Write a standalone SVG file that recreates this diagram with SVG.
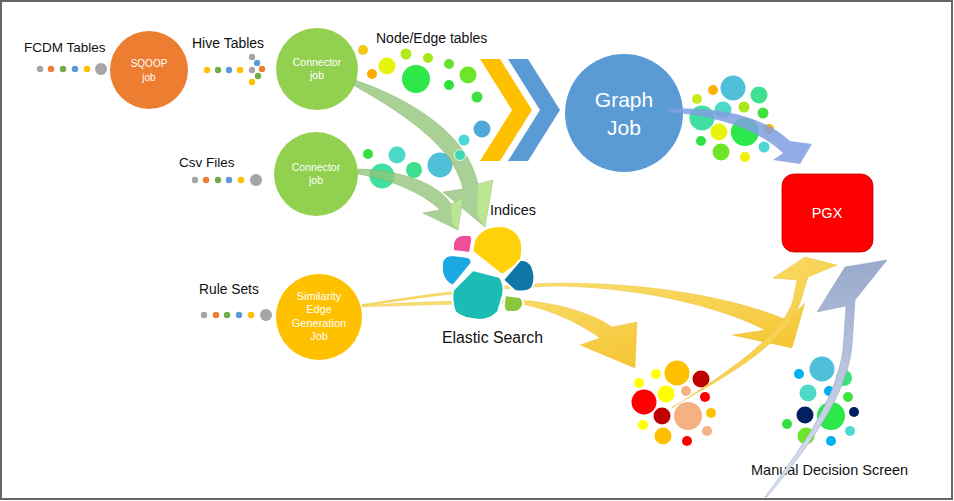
<svg xmlns="http://www.w3.org/2000/svg" width="954" height="501" viewBox="0 0 954 501">
<defs>
<style>
.lbl{font-family:"Liberation Sans",Arial,sans-serif;fill:#111}
.wt{font-family:"Liberation Sans",Arial,sans-serif;fill:#fff;text-anchor:middle}
.dg{fill:#a5a5a5}.do{fill:#ed7d31}.dgr{fill:#70ad47}.db{fill:#5b9bd5}.dy{fill:#ffc000}
.garrow{fill:#94c47a;fill-opacity:0.8;stroke:#7aad5a;stroke-opacity:0.5;stroke-width:0.8}
.ghead{fill:#bde792;fill-opacity:0.9}
.yarrow{fill:url(#yg);stroke:#e6b82a;stroke-width:0.5;stroke-opacity:0.7}
.es{stroke:#fff;stroke-width:2;stroke-linejoin:round}
</style>
<linearGradient id="yg" x1="0" y1="0" x2="1" y2="1">
<stop offset="0" stop-color="#fbe27a"/><stop offset="1" stop-color="#f4c531"/>
</linearGradient>
<linearGradient id="bgr" x1="0" y1="1" x2="0" y2="0">
<stop offset="0" stop-color="#dfe5f2"/><stop offset="1" stop-color="#98a9cc"/>
</linearGradient>
</defs>
<rect x="1" y="1" width="951" height="498" fill="#fff" stroke="#666" stroke-width="2"/>

<g id="fcdm-tables">
<text class="lbl" x="24" y="52" font-size="13.5">FCDM Tables</text>
<circle class="dg" cx="40" cy="69" r="3.2"/><circle class="do" cx="51" cy="69" r="3.2"/><circle class="dgr" cx="63" cy="69" r="3.2"/><circle class="db" cx="75" cy="69" r="3.2"/><circle class="dy" cx="87" cy="69" r="3.2"/><circle class="dg" cx="101" cy="69" r="6"/>
</g>
<g id="sqoop-job">
<circle cx="149" cy="70" r="39" fill="#ed7d31"/>
<text class="wt" x="149" y="67" font-size="10">SQOOP</text>
<text class="wt" x="149" y="81" font-size="10">job</text>
</g>
<g id="hive-tables">
<text class="lbl" x="192" y="48" font-size="14">Hive Tables</text>
<circle class="dy" cx="207" cy="70" r="3.2"/><circle class="dgr" cx="218" cy="70" r="3.2"/><circle class="db" cx="229" cy="70" r="3.2"/><circle class="dy" cx="240" cy="70" r="3.2"/><circle class="dg" cx="252" cy="70" r="3.2"/>
<circle class="dg" cx="252" cy="57" r="3.2"/><circle class="db" cx="257" cy="63" r="3.2"/><circle class="do" cx="262" cy="69" r="3.2"/><circle class="dgr" cx="258" cy="76" r="3.2"/><circle class="dy" cx="252" cy="82" r="3.2"/>
</g>
<g id="connector-job-1">
<circle cx="317" cy="69" r="41" fill="#92d050"/>
<text class="wt" x="317" y="66" font-size="10.5">Connector</text>
<text class="wt" x="317" y="79" font-size="10.5">job</text>
</g>
<g id="csv-files">
<text class="lbl" x="179" y="167" font-size="13.5">Csv Files</text>
<circle class="dg" cx="195" cy="180" r="3.2"/><circle class="do" cx="206" cy="180" r="3.2"/><circle class="dgr" cx="218" cy="180" r="3.2"/><circle class="db" cx="229" cy="180" r="3.2"/><circle class="dy" cx="241" cy="180" r="3.2"/><circle class="dg" cx="256" cy="180" r="6"/>
</g>
<g id="connector-job-2">
<circle cx="316" cy="174" r="42" fill="#92d050"/>
<text class="wt" x="316" y="171" font-size="10.5">Connector</text>
<text class="wt" x="316" y="184" font-size="10.5">job</text>
</g>
<g id="rule-sets">
<text class="lbl" x="199" y="294" font-size="13.8">Rule Sets</text>
<circle class="dg" cx="204" cy="315" r="3.2"/><circle class="do" cx="216" cy="315" r="3.2"/><circle class="dgr" cx="227" cy="315" r="3.2"/><circle class="db" cx="239" cy="315" r="3.2"/><circle class="dy" cx="251" cy="315" r="3.2"/><circle class="dg" cx="266" cy="315" r="6"/>
</g>
<g id="similarity-job">
<circle cx="319" cy="317" r="43" fill="#ffc000"/>
<text class="wt" x="319" y="300" font-size="11">Similarity</text>
<text class="wt" x="319" y="313" font-size="11">Edge</text>
<text class="wt" x="319" y="327" font-size="11">Generation</text>
<text class="wt" x="319" y="340" font-size="11">Job</text>
</g>
<g id="node-edge-tables">
<text class="lbl" x="376" y="43" font-size="14">Node/Edge tables</text>
<circle cx="363" cy="50" r="5" fill="#f5c518"/><circle cx="372" cy="74" r="5" fill="#ffa800"/><circle cx="387" cy="66" r="8.5" fill="#e6f50c"/>
<circle cx="406" cy="54" r="5.5" fill="#b4ea1c"/><circle cx="416" cy="79" r="14" fill="#2ee84a"/><circle cx="428" cy="58" r="5" fill="#a8e818"/>
<circle cx="449" cy="64" r="5" fill="#66e030"/><circle cx="449" cy="85" r="5" fill="#2ee040"/><circle cx="468" cy="75" r="8.5" fill="#6ee628"/>
<circle cx="477" cy="97" r="5.5" fill="#3ee040"/><circle cx="482" cy="129" r="8.5" fill="#4fa8d8"/><circle cx="464" cy="140" r="5.5" fill="#4dd8d8"/>
<circle cx="368" cy="154" r="5" fill="#30e040"/><circle cx="397" cy="155" r="8.5" fill="#4dd8c8"/><circle cx="382" cy="176" r="12.5" fill="#3fe0a0"/>
<circle cx="414" cy="170" r="8" fill="#3ee090"/><circle cx="440" cy="165" r="12.5" fill="#50c0d8"/>
</g>
<g id="chevrons">
<polygon points="480,59 500,59 532,110 500,161 480,161 512,110" fill="#ffc000"/>
<polygon points="508,59 528,59 560,110 528,161 508,161 540,110" fill="#5b9bd5"/>
</g>
<g id="graph-job">
<circle cx="624" cy="113" r="59" fill="#5b9bd5"/>
<text class="wt" x="624" y="107" font-size="21">Graph</text>
<text class="wt" x="624" y="135" font-size="21">Job</text>
</g>
<g id="graph-bubbles">
<circle cx="697" cy="99" r="5" fill="#c8ec1a"/><circle cx="713" cy="90" r="5" fill="#ffb000"/><circle cx="733" cy="88" r="12.5" fill="#50c0d8"/>
<circle cx="759" cy="95" r="8.5" fill="#40e090"/><circle cx="702" cy="118" r="12.5" fill="#3fe0a0"/><circle cx="723" cy="110" r="8.5" fill="#4dd8c8"/>
<circle cx="744" cy="107" r="5.5" fill="#a8e818"/><circle cx="763" cy="113" r="5.5" fill="#40e040"/><circle cx="769" cy="129" r="5" fill="#ffb000"/>
<circle cx="719" cy="132" r="8.5" fill="#e8f40c"/><circle cx="745" cy="132" r="14" fill="#2de84a"/><circle cx="701" cy="141" r="5" fill="#30e040"/>
<circle cx="721" cy="152" r="8.5" fill="#6ee628"/><circle cx="745" cy="157" r="5" fill="#f0f000"/><circle cx="764" cy="147" r="5.5" fill="#4dd8d8"/>
</g>
<g id="pgx">
<rect x="782" y="174" width="91" height="78" rx="12" fill="#ff0000" stroke="#c00000" stroke-width="0.8"/>
<text class="wt" x="827" y="218" font-size="14.5">PGX</text>
</g>
<g id="result-bubbles">
<circle cx="639" cy="383" r="5" fill="#ffff00"/><circle cx="656" cy="374" r="5" fill="#ffff00"/><circle cx="677" cy="373" r="12.5" fill="#ffc000"/>
<circle cx="701" cy="379" r="8.5" fill="#c00000"/><circle cx="644" cy="402" r="12.5" fill="#ff0000"/><circle cx="666" cy="394" r="8.5" fill="#ffff00"/>
<circle cx="686" cy="391" r="5" fill="#f4b183"/><circle cx="705" cy="397" r="5" fill="#ff0000"/><circle cx="662" cy="416" r="8.5" fill="#c00000"/>
<circle cx="688" cy="416" r="14" fill="#f4b183"/><circle cx="711" cy="413" r="5" fill="#ffc000"/><circle cx="643" cy="425" r="5" fill="#ffff00"/>
<circle cx="663" cy="436" r="8.5" fill="#ffc000"/><circle cx="707" cy="431" r="5" fill="#f4b183"/><circle cx="687" cy="441" r="5" fill="#ff0000"/>
</g>
<g id="manual-decision-screen">
<circle cx="799" cy="374" r="5" fill="#00b0f0"/><circle cx="822" cy="369" r="12.5" fill="#50c0d8"/><circle cx="844" cy="378" r="8" fill="#3ee080"/>
<circle cx="808" cy="393" r="8.5" fill="#4dd8c8"/><circle cx="829" cy="391" r="5" fill="#00b0f0"/><circle cx="848" cy="397" r="5" fill="#40e040"/>
<circle cx="805" cy="415" r="8.5" fill="#002060"/><circle cx="831" cy="416" r="14" fill="#2de84a"/><circle cx="854" cy="412" r="5" fill="#002060"/>
<circle cx="787" cy="424" r="5" fill="#30e040"/><circle cx="806" cy="436" r="8.5" fill="#6ee628"/><circle cx="831" cy="441" r="5" fill="#00b0f0"/>
<circle cx="850" cy="431" r="5" fill="#4dd8d8"/>
<text class="lbl" x="751" y="475" font-size="14.5">Manual Decision Screen</text>
</g>

<g id="connectors">
<path class="garrow" d="M355,80 C418,102 468,137 478,184 L493,180 L485,227 L443,192 L463,189 C455,150 412,118 353,85 Z"/>
<polygon class="ghead" points="478,184 493,180 485,227 477,215"/>
<path class="garrow" d="M358,169 C400,170 438,183 451,204 L463,198 L458,230 L423,213 L440,210 C426,196 398,181 358,174 Z"/>
<polygon class="ghead" points="451,204 463,198 458,230 452,222"/>
<path fill="#7f9fe0" fill-opacity="0.85" d="M668,109 C716,106 762,115 790,141 L812,144 L800,164 L773,160 L783,153 C756,128 716,116 668,112 Z"/>
<path class="yarrow" d="M362,304.5 C430,294 500,284 560,283 C660,283 740,300 787,320 L805,303 L792,348 L732,335 L765,330 C730,312 660,289 560,286 C500,287 430,296 362,306 Z"/>
<path class="yarrow" d="M362,305.5 C420,301.5 480,300 517,300 C555,302 590,312 612,327 L637,322 L635,368 L580,345 L600,338 C575,320 545,308 517,303 C480,303.5 420,305 362,307 Z"/>
<path class="yarrow" d="M672,407 C730,375 790,340 801,300 L808,277 L837,265 L805,257 L773,278 L797,280 L793,300 C783,335 728,372 672,408 Z"/>
<path fill="url(#bgr)" stroke="#8e9ec0" stroke-width="0.5" d="M765,497 C800,450 836,400 843,350 L846,306 L817,312 L845,267 L887,260 L855,300 L852,345 C848,395 808,447 767,497 Z"/>
<circle cx="460" cy="155" r="5.5" fill="#40d8b0" stroke="#fff" stroke-width="0.8"/>
</g>

<g id="elastic-search">
<path class="es" fill="#f04e98" d="M453,243 Q455,236 462,235 L470,235 Q473,237 472,241 L470,253 L453,251 Z"/>
<path class="es" fill="#fed10a" d="M473,252 C471,236 484,226 499,226 C514,226 524,237 522,252 C522,260 519,263 512,268 L502,275 Z"/>
<path class="es" fill="#1ba9e1" d="M442,262 Q445,255 452,255 L468,257 Q473,260 471,264 L453,286 Q444,282 442,272 Z"/>
<path class="es" fill="#1bbcb4" d="M453,290 L473,270 L500,277 Q505,285 503,295 L498,312 Q490,320 480,320 Q462,319 455,312 Q451,300 453,290 Z"/>
<path class="es" fill="#0f77a5" d="M503,280 L520,260 Q528,259 532,266 Q537,278 532,288 Q527,293 515,291 Z"/>
<path class="es" fill="#8cc63f" d="M505,295 L520,297 Q524,300 523,305 Q521,312 513,312 L507,312 Q503,310 504,303 Z"/>
<text class="lbl" x="490" y="215" font-size="14.5">Indices</text>
<text class="lbl" x="442" y="343" font-size="15.8">Elastic Search</text>
</g>
</svg>
